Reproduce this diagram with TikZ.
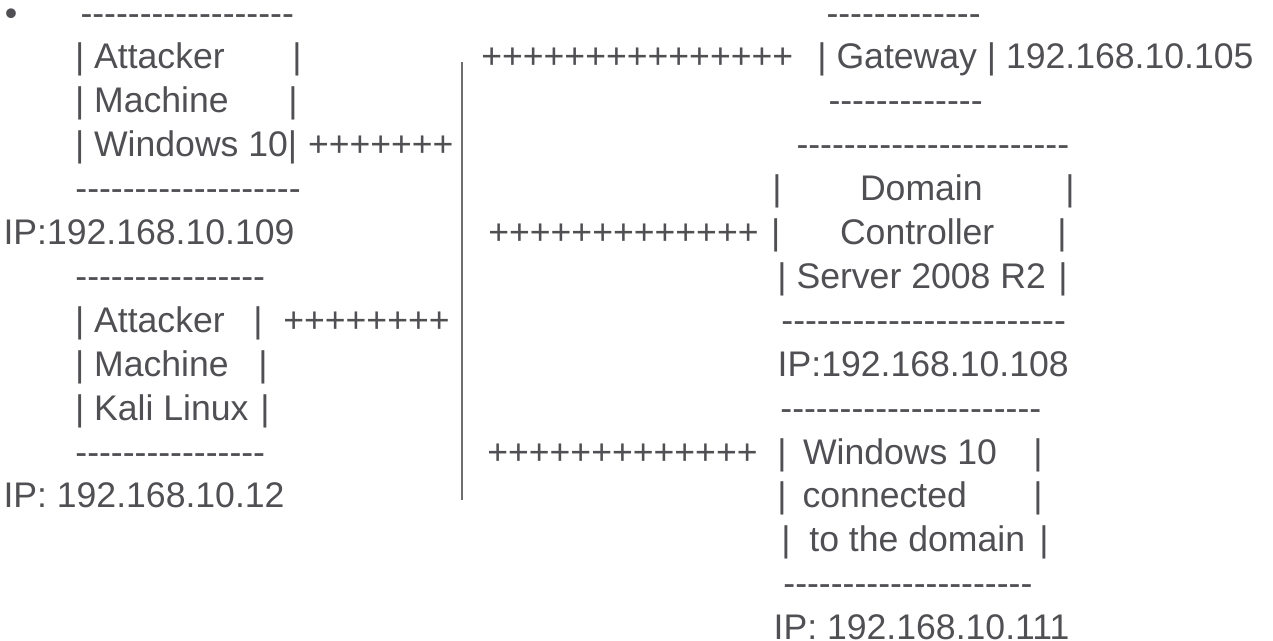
\documentclass[tikz,border=0pt]{standalone}
\usepackage{fontspec}
\newfontfamily\af{Liberation Sans}
\definecolor{ink}{RGB}{80,80,84}
\definecolor{vrule}{RGB}{110,110,112}
\newcommand\hy[1]{\foreach\k in {1,...,#1}{-\kern0pt}}
\newcommand\pl[1]{\foreach\k in {1,...,#1}{+\kern0pt}}
\tikzset{
  ascii/.style={anchor=base west, inner sep=0pt, outer sep=0pt, text=ink,
                font=\af\fontsize{35.6}{40}\selectfont},
  toprow/.style={ascii, text height=16pt, text depth=0pt},
  busline/.style={draw=vrule, line width=1.3pt}
}
\begin{document}
\begin{tikzpicture}[x=1pt,y=-1pt]
\fill[white] (0,0) rectangle (1273,640);
\useasboundingbox (0,0) rectangle (1273,640);
% ---------------- left column ----------------
\node[toprow] (b0) at (5,25) {•};
\node[toprow] (d0) at (80.5,25) {\hy{18}};
\node[ascii] (a1) at (75,68.9) {| Attacker};
\node[ascii] (p1) at (292.4,68.9) {|};
\node[ascii] (a2) at (75,112.8) {| Machine};
\node[ascii] (p2) at (288.4,112.8) {|};
\node[ascii] (a3) at (75,156.7) {| Windows 10|};
\node[ascii] (q3) at (308,156.7) {\pl{7}};
\node[ascii] (d4) at (75.4,200.6) {\hy{19}};
\node[ascii] (ip5) at (3.5,244.5) {IP:192.168.10.109};
\node[ascii] (d6) at (75.4,288.4) {\hy{16}};
\node[ascii] (a7) at (75,332.3) {| Attacker};
\node[ascii] (p7) at (253.4,332.3) {|};
\node[ascii] (q7) at (283.3,332.3) {\pl{8}};
\node[ascii] (a8) at (75,376.2) {| Machine};
\node[ascii] (p8) at (258.4,376.2) {|};
\node[ascii] (a9) at (75,420.1) {| Kali Linux};
\node[ascii] (p9) at (260.4,420.1) {|};
\node[ascii] (d10) at (75.4,464) {\hy{16}};
\node[ascii] (ip11) at (3.5,507.9) {IP: 192.168.10.12};
% ---------------- vertical bus ----------------
\coordinate (vtop) at (462,62);
\coordinate (vbot) at (462,500);
\draw[busline] (vtop) -- (vbot);
% ---------------- right column ----------------
\node[toprow] (rd0) at (826.5,25) {\hy{13}};
\node[ascii] (rq1) at (481.3,68.9) {\pl{15}};
\node[ascii] (gw) at (817.4,68.9) {| Gateway | 192.168.10.105};
\node[ascii] (rd2) at (828.5,112.8) {\hy{13}};
\node[ascii] (rd3) at (796.5,156.7) {\hy{23}};
\node[ascii] (r4a) at (772.4,200.6) {|};
\node[ascii] (r4b) at (860,200.6) {Domain};
\node[ascii] (r4c) at (1065.4,200.6) {|};
\node[ascii] (rq5) at (488.3,244.5) {\pl{13}};
\node[ascii] (r5a) at (771,244.5) {|};
\node[ascii] (r5b) at (840,244.5) {Controller};
\node[ascii] (r5c) at (1057.4,244.5) {|};
\node[ascii] (r6a) at (777.4,288.4) {| Server 2008 R2};
\node[ascii] (r6c) at (1058.4,288.4) {|};
\node[ascii] (rd7) at (781.4,332.3) {\hy{24}};
\node[ascii] (ip8) at (777.7,376.2) {IP:192.168.10.108};
\node[ascii] (rd9) at (780.4,420.1) {\hy{22}};
\node[ascii] (rq10) at (487.3,464) {\pl{13}};
\node[ascii] (r10a) at (777.4,464) {|};
\node[ascii] (r10b) at (803,464) {Windows 10};
\node[ascii] (r10c) at (1033.4,464) {|};
\node[ascii] (r11a) at (777.4,507.9) {|};
\node[ascii] (r11b) at (802.6,507.9) {connected};
\node[ascii] (r11c) at (1033.4,507.9) {|};
\node[ascii] (r12a) at (781.4,551.8) {|};
\node[ascii] (r12b) at (809.4,551.8) {to the domain};
\node[ascii] (r12c) at (1039.4,551.8) {|};
\node[ascii] (rd13) at (783.4,595.7) {\hy{21}};
\node[ascii] (ip14) at (773.7,639.6) {IP: 192.168.10.111};
\end{tikzpicture}
\end{document}
